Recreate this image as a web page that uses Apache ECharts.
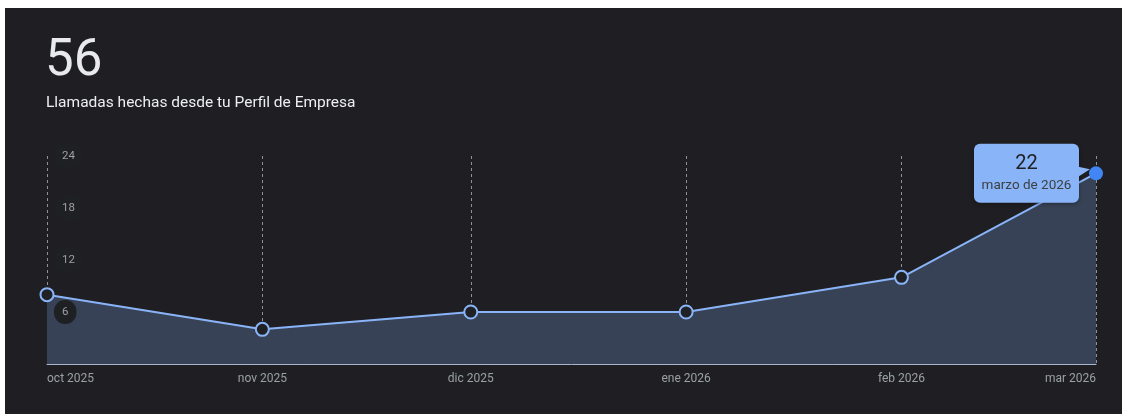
<!DOCTYPE html>
<html>
<head>
<meta charset="utf-8">
<script src="https://cdn.jsdelivr.net/npm/echarts@6/dist/echarts.min.js"></script>
<style>
  html, body { margin: 0; padding: 0; background: #ffffff; width: 1127px; height: 414px; overflow: hidden; }
  #card { position: absolute; left: 5px; top: 8px; width: 1117px; height: 406px; background: #1f1f23; }
  #chart { position: absolute; left: 0; top: 0; width: 1127px; height: 414px; }
</style>
</head>
<body>
<div id="card"></div>
<div id="chart"></div>
<script>
const months = ['2025-10-01', '2025-11-01', '2025-12-01', '2026-01-01', '2026-02-01', '2026-03-01'];
const categories = ['oct 2025', 'nov 2025', 'dic 2025', 'ene 2026', 'feb 2026', 'mar 2026'];
const calls = [8, 4, 6, 6, 10, 22];
const yTicks = [6, 12, 18, 24];
const totalCalls = '56';
const subtitle = 'Llamadas hechas desde tu Perfil de Empresa';
const highlightLabel = 'marzo de 2026';

const DAY = 86400000;
const t0 = new Date(months[0] + 'T00:00:00Z').getTime();
const dayPos = months.map(d => Math.round((new Date(d + 'T00:00:00Z').getTime() - t0) / DAY));
const lastIdx = calls.length - 1;
const seriesData = calls.map((v, i) => {
  if (i !== lastIdx) return [dayPos[i], v];
  return {
    value: [dayPos[i], v],
    symbolSize: 14,
    itemStyle: { color: '#4285f4', borderColor: '#4285f4', borderWidth: 0 },
    label: {
      show: true,
      position: 'left',
      distance: 10,
      formatter: '{v|' + v + '}\n{d|' + highlightLabel + '}',
      backgroundColor: '#8ab4f8',
      borderRadius: 6,
      padding: [8, 8, 8, 8],
      width: 89,
      shadowColor: 'rgba(0,0,0,0.35)',
      shadowBlur: 4,
      shadowOffsetY: 1,
      rich: {
        v: { fontSize: 20, color: '#202124', fontFamily: 'Roboto', lineHeight: 24, align: 'center', width: 89 },
        d: { fontSize: 13.5, color: '#3c4043', fontFamily: 'Roboto', lineHeight: 19, align: 'center', width: 89 }
      }
    }
  };
});

const chart = echarts.init(document.getElementById('chart'), null, { renderer: 'canvas' });
chart.setOption({
  backgroundColor: 'transparent',
  animation: false,
  title: [
    {
      text: totalCalls,
      left: 45,
      top: 37,
      padding: 0,
      textStyle: { fontSize: 51, fontWeight: 400, color: '#e8eaed', fontFamily: 'Roboto' }
    },
    {
      text: subtitle,
      left: 46,
      top: 95,
      padding: 0,
      textStyle: { fontSize: 15.5, fontWeight: 400, color: '#eceef1', fontFamily: 'Roboto' }
    }
  ],
  grid: { left: 47, right: 31, top: 156, bottom: 50, containLabel: false },
  xAxis: {
    type: 'value',
    min: 0,
    max: dayPos[lastIdx],
    axisLine: { show: true, lineStyle: { color: '#aab6cc', width: 1 } },
    axisTick: { show: false, customValues: dayPos },
    axisLabel: {
      customValues: dayPos,
      color: '#9aa0a6',
      fontSize: 12,
      fontFamily: 'Roboto',
      margin: 9,
      alignMinLabel: 'left',
      alignMaxLabel: 'right',
      formatter: function (val) {
        const idx = dayPos.indexOf(val);
        return idx >= 0 ? categories[idx] : '';
      }
    },
    splitLine: { show: true, lineStyle: { color: '#8e9399', type: [3, 3], width: 1 } }
  },
  yAxis: {
    type: 'value',
    min: 0,
    max: 24,
    interval: 6,
    z: 5,
    axisLine: { show: false },
    axisTick: { show: false },
    splitLine: { show: false },
    axisLabel: {
      inside: true,
      showMinLabel: false,
      margin: 7,
      color: '#9aa0a6',
      fontSize: 11.5,
      fontFamily: 'Roboto',
      backgroundColor: '#1f2023',
      borderRadius: 11,
      padding: [6, 8],
      formatter: function (v) { return yTicks.indexOf(v) >= 0 ? String(v) : ''; }
    }
  },
  series: [
    {
      type: 'line',
      data: seriesData,
      symbol: 'circle',
      symbolSize: 13,
      showAllSymbol: true,
      lineStyle: { color: '#8ab4f8', width: 2 },
      itemStyle: { color: '#202124', borderColor: '#8ab4f8', borderWidth: 2 },
      areaStyle: { color: '#374256', opacity: 1 },
      z: 1,
      markPoint: {
        silent: true,
        label: { show: false },
        data: [{
          coord: [dayPos[lastIdx], calls[lastIdx]],
          symbol: 'triangle',
          symbolSize: [10, 12],
          symbolRotate: -80,
          symbolOffset: [-12, -3],
          itemStyle: { color: '#8ab4f8' }
        }]
      }
    }
  ]
});
</script>
</body>
</html>
